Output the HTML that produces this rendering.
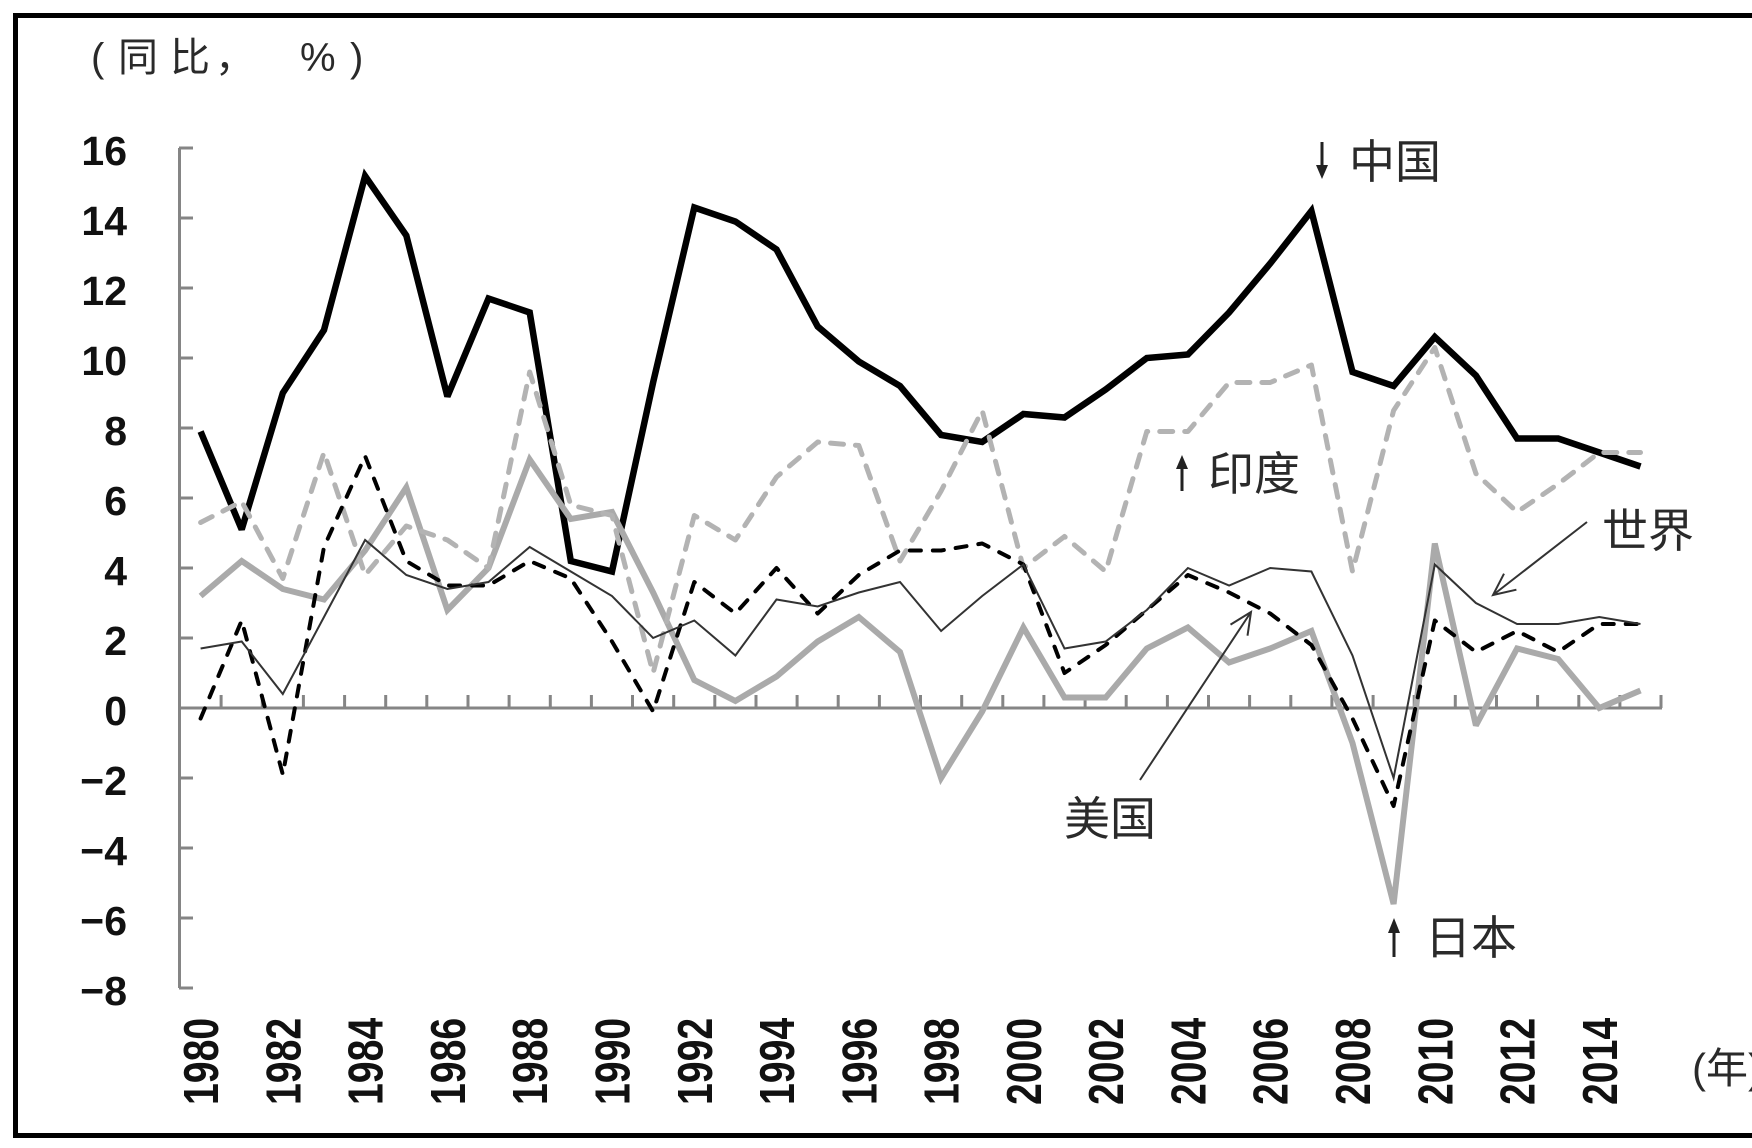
<!DOCTYPE html>
<html><head><meta charset="utf-8"><style>
html,body{margin:0;padding:0;background:#fff;}
body{width:1752px;height:1148px;overflow:hidden;}
svg{display:block;}
.yl{font-family:"Liberation Sans",Arial,sans-serif;font-weight:bold;font-size:41px;fill:#111;}
.xl{font-family:"Liberation Sans",Arial,sans-serif;font-weight:bold;font-size:49px;fill:#111;}
.cj{font-family:"Liberation Sans","Noto Sans CJK SC","WenQuanYi Zen Hei",sans-serif;fill:#2a2a2a;}
</style></head><body>
<svg width="1752" height="1148" viewBox="0 0 1752 1148" xmlns="http://www.w3.org/2000/svg">
<rect x="0" y="0" width="1752" height="1148" fill="#fff"/>
<rect x="15.5" y="15.5" width="1760" height="1120" fill="none" stroke="#000" stroke-width="5"/>

<!-- title -->
<text class="cj" x="91" y="71" font-size="40">(</text>
<text class="cj" x="118" y="71" font-size="40" letter-spacing="12">同比</text>
<text class="cj" x="215" y="71" font-size="40">，</text>
<text class="cj" x="300" y="71" font-size="40">%</text>
<text class="cj" x="350" y="71" font-size="40">)</text>

<!-- axes -->
<g stroke="#858585" stroke-width="3" fill="none">
<path d="M179.5 148V988"/>
<path d="M179 148H193M179 218H193M179 288H193M179 358H193M179 428H193M179 498H193M179 568H193M179 638H193M179 708H193M179 778H193M179 848H193M179 918H193M179 988H193"/>
<path d="M179 708H1662"/>
<path d="M221.1 708V695M262.3 708V695M303.4 708V695M344.6 708V695M385.7 708V695M426.8 708V695M468 708V695M509.1 708V695M550.3 708V695M591.4 708V695M632.5 708V695M673.7 708V695M714.8 708V695M756 708V695M797.1 708V695M838.2 708V695M879.4 708V695M920.5 708V695M961.7 708V695M1002.8 708V695M1043.9 708V695M1085.1 708V695M1126.2 708V695M1167.4 708V695M1208.5 708V695M1249.6 708V695M1290.8 708V695M1331.9 708V695M1373.1 708V695M1414.2 708V695M1455.3 708V695M1496.5 708V695M1537.6 708V695M1578.8 708V695M1619.9 708V695M1661 708V695"/>
</g>

<!-- y labels -->
<g class="yl" text-anchor="end">
<text x="127" y="165">16</text>
<text x="127" y="235">14</text>
<text x="127" y="305">12</text>
<text x="127" y="375">10</text>
<text x="127" y="445">8</text>
<text x="127" y="515">6</text>
<text x="127" y="585">4</text>
<text x="127" y="655">2</text>
<text x="127" y="725">0</text>
<text x="127" y="795">−2</text>
<text x="127" y="865">−4</text>
<text x="127" y="935">−6</text>
<text x="127" y="1005">−8</text>
</g>

<!-- x labels -->
<g class="xl">
<text transform="translate(218.1,1105) rotate(-90) scale(0.8,1)">1980</text>
<text transform="translate(300.3,1105) rotate(-90) scale(0.8,1)">1982</text>
<text transform="translate(382.6,1105) rotate(-90) scale(0.8,1)">1984</text>
<text transform="translate(464.9,1105) rotate(-90) scale(0.8,1)">1986</text>
<text transform="translate(547.2,1105) rotate(-90) scale(0.8,1)">1988</text>
<text transform="translate(629.5,1105) rotate(-90) scale(0.8,1)">1990</text>
<text transform="translate(711.8,1105) rotate(-90) scale(0.8,1)">1992</text>
<text transform="translate(794,1105) rotate(-90) scale(0.8,1)">1994</text>
<text transform="translate(876.3,1105) rotate(-90) scale(0.8,1)">1996</text>
<text transform="translate(958.6,1105) rotate(-90) scale(0.8,1)">1998</text>
<text transform="translate(1040.9,1105) rotate(-90) scale(0.8,1)">2000</text>
<text transform="translate(1123.2,1105) rotate(-90) scale(0.8,1)">2002</text>
<text transform="translate(1205.4,1105) rotate(-90) scale(0.8,1)">2004</text>
<text transform="translate(1287.7,1105) rotate(-90) scale(0.8,1)">2006</text>
<text transform="translate(1370,1105) rotate(-90) scale(0.8,1)">2008</text>
<text transform="translate(1452.3,1105) rotate(-90) scale(0.8,1)">2010</text>
<text transform="translate(1534.6,1105) rotate(-90) scale(0.8,1)">2012</text>
<text transform="translate(1616.8,1105) rotate(-90) scale(0.8,1)">2014</text>
</g>
<text class="cj" x="1692" y="1083" font-size="42">(年)</text>

<!-- series -->
<polyline fill="none" stroke="#000" stroke-width="6.5" stroke-linejoin="miter" stroke-miterlimit="2.5" points="200.6,431.5 241.7,529.5 282.8,393 324,330 365.1,176 406.3,235.5 447.4,396.5 488.5,298.5 529.7,312.5 570.8,561 612,571.5 653.1,382.5 694.3,207.5 735.4,221.5 776.5,249.5 817.7,326.5 858.8,361.5 900,386 941.1,435 982.2,442 1023.4,414 1064.5,417.5 1105.7,389.5 1146.8,358 1187.9,354.5 1229.1,312.5 1270.2,263.5 1311.4,211 1352.5,372 1393.6,386 1434.8,337 1475.9,375.5 1517.1,438.5 1558.2,438.5 1599.3,452.5 1640.5,466.5"/>

<polyline fill="none" stroke="#aaaaaa" stroke-width="6" stroke-linejoin="miter" stroke-miterlimit="2.5" points="200.6,596 241.7,561 282.8,589 324,599.5 365.1,550.5 406.3,487.5 447.4,610 488.5,568 529.7,459.5 570.8,519 612,512 653.1,592.5 694.3,680 735.4,701 776.5,676.5 817.7,641.5 858.8,617 900,652 941.1,778 982.2,711.5 1023.4,627.5 1064.5,697.5 1105.7,697.5 1146.8,648.5 1187.9,627.5 1229.1,662.5 1270.2,648.5 1311.4,631 1352.5,743 1393.6,904 1434.8,543.5 1475.9,725.5 1517.1,648.5 1558.2,659 1599.3,708 1640.5,690.5"/>

<polyline fill="none" stroke="#b3b3b3" stroke-width="5" stroke-linecap="round" stroke-linejoin="round" stroke-dasharray="13 12" points="200.6,522.5 241.7,501.5 282.8,578.5 324,452.5 365.1,575 406.3,526 447.4,540 488.5,568 529.7,372 570.8,505 612,515.5 653.1,673 694.3,515.5 735.4,540 776.5,477 817.7,442 858.8,445.5 900,561 941.1,491 982.2,410.5 1023.4,568 1064.5,536.5 1105.7,571.5 1146.8,431.5 1187.9,431.5 1229.1,382.5 1270.2,382.5 1311.4,365 1352.5,571.5 1393.6,410.5 1434.8,347.5 1475.9,473.5 1517.1,512 1558.2,484 1599.3,452.5 1640.5,452.5"/>

<polyline fill="none" stroke="#000" stroke-width="4" stroke-linecap="round" stroke-linejoin="round" stroke-dasharray="11 12" points="200.6,718.5 241.7,620.5 282.8,774.5 324,547 365.1,456 406.3,561 447.4,585.5 488.5,585.5 529.7,561 570.8,578.5 612,641.5 653.1,711.5 694.3,582 735.4,613.5 776.5,568 817.7,613.5 858.8,575 900,550.5 941.1,550.5 982.2,543.5 1023.4,564.5 1064.5,673 1105.7,645 1146.8,610 1187.9,575 1229.1,592.5 1270.2,613.5 1311.4,645 1352.5,718.5 1393.6,806 1434.8,620.5 1475.9,652 1517.1,631 1558.2,652 1599.3,624 1640.5,624"/>

<polyline fill="none" stroke="#333" stroke-width="2" stroke-linejoin="miter" points="200.6,648.5 241.7,641.5 282.8,694 324,617 365.1,540 406.3,575 447.4,589 488.5,582 529.7,547 570.8,571.5 612,596 653.1,638 694.3,620.5 735.4,655.5 776.5,599.5 817.7,606.5 858.8,592.5 900,582 941.1,631 982.2,596 1023.4,564.5 1064.5,648.5 1105.7,641.5 1146.8,610 1187.9,568 1229.1,585.5 1270.2,568 1311.4,571.5 1352.5,655.5 1393.6,778 1434.8,564.5 1475.9,603 1517.1,624 1558.2,624 1599.3,617 1640.5,624"/>

<!-- annotations -->
<g stroke="#222" stroke-width="3" fill="#222">
<line x1="1322" y1="142" x2="1322" y2="168"/>
<polygon points="1316,165 1328,165 1322,179" stroke="none"/>
<line x1="1182" y1="491" x2="1182" y2="466"/>
<polygon points="1176,469 1188,469 1182,455" stroke="none"/>
<line x1="1394" y1="957" x2="1394" y2="931"/>
<polygon points="1388,933 1400,933 1394,918" stroke="none"/>
</g>
<g stroke="#333" stroke-width="2" fill="none">
<path d="M1587 522L1493 595M1504 573.7L1493 595L1516.4 589.7"/>
<path d="M1140 780L1251 612M1230.5 624.6L1251 612L1247.5 635.7"/>
</g>

<text class="cj" x="1349" y="178" font-size="46">中国</text>
<text class="cj" x="1208" y="490" font-size="46">印度</text>
<text class="cj" x="1602" y="547" font-size="46">世界</text>
<text class="cj" x="1064" y="835" font-size="46">美国</text>
<text class="cj" x="1425" y="954" font-size="46">日本</text>
</svg>
</body></html>
